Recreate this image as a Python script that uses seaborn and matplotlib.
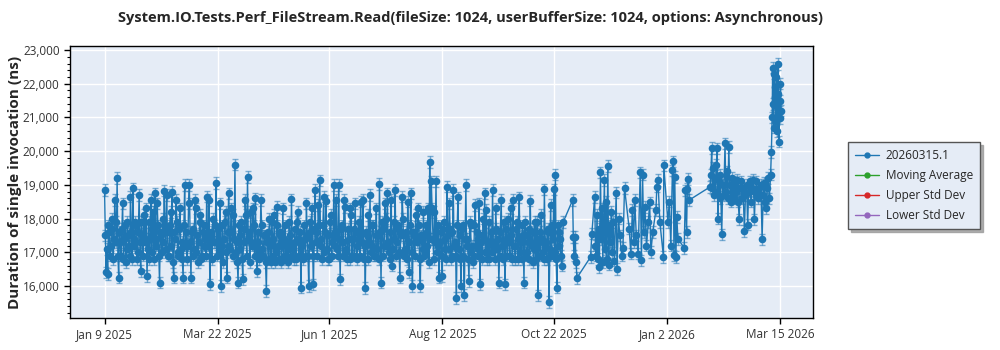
import numpy as np
import pandas as pd
import matplotlib
matplotlib.use("Agg")
import matplotlib.pyplot as plt
from matplotlib.ticker import FuncFormatter, AutoMinorLocator
from matplotlib.lines import Line2D
import seaborn as sns

# ---------------- data ----------------
title = "System.IO.Tests.Perf_FileStream.Read(fileSize: 1024, userBufferSize: 1024, options: Asynchronous)"
y_label = "Duration of single invocation (ns)"
series_names = ["20260315.1", "Moving Average", "Upper Std Dev", "Lower Std Dev"]
start_date = "2025-01-09"

# first run of each day, Jan 9 2025 .. Oct 26 2025 (ns)
daily_values_am = [
    18850, 16400, 16350, 17600, 17200, 18000, 17400, 17900, 19200, 16250,
    17300, 17700, 16800, 17800, 17100, 17500, 16900, 17600, 18900, 17200,
    17800, 17000, 18700, 16450, 17500, 18100, 17300, 16300, 17900, 17400,
    17000, 18200, 18750, 17200, 17800, 16100, 17500, 18000, 18830, 17100,
    17600, 16900, 18200, 18800, 16250, 17400, 17900, 17000, 18300, 17300,
    16250, 19000, 17600, 17200, 19000, 16250, 17700, 17100, 18300, 17500,
    17300, 18100, 16900, 17800, 17400, 18650, 17200, 16050, 17600, 18000,
    17300, 19050, 17700, 17000, 16000, 17800, 17400, 18200, 16250, 18750,
    17100, 17600, 18100, 19600, 17300, 16100, 17500, 17900, 16200, 17300,
    18100, 19230, 17600, 18200, 17200, 17800, 18600, 16450, 17300, 17000,
    17800, 16900, 17500, 15850, 17600, 18000, 16700, 17400, 18100, 17000,
    18350, 16800, 17600, 17200, 16900, 17800, 17300, 16700, 17500, 18570,
    17100, 17700, 16800, 18200, 17400, 15950, 17300, 17800, 16900, 17500,
    16000, 17900, 18300, 16050, 18850, 17600, 18400, 19130, 17200, 17800,
    17000, 18530, 17500, 16800, 18100, 17300, 19000, 17600, 17100, 19000,
    16200, 17800, 17300, 18350, 17000, 17700, 16800, 18100, 17400, 16900,
    17600, 17200, 17900, 18500, 17300, 16800, 15940, 17500, 18100, 18700,
    17200, 17800, 16900, 18300, 17500, 19030, 16100, 17700, 17200, 18000,
    18750, 17000, 17600, 16600, 17900, 18850, 17300, 17800, 16250, 17600,
    18000, 17100, 17600, 18500, 16400, 18750, 16000, 17500, 18100, 17300,
    17800, 16000, 17400, 18200, 17000, 17600, 18300, 19680, 19100, 17400,
    18200, 19100, 17200, 16250, 17600, 16300, 17900, 17400, 18950, 17100,
    17700, 16900, 18850, 17300, 15650, 18630, 17500, 16000, 17800, 15730,
    19000, 17400, 16150, 17800, 17200, 16900, 18400, 17600, 17100, 16050,
    17500, 18000, 18750, 18250, 17000, 16800, 17600, 18850, 17300, 18300,
    17100, 16100, 17600, 17200, 17900, 16050, 17400, 18000, 16900, 17500,
    18550, 17200, 17700, 16800, 18630, 17300, 17800, 16100, 17500, 17000,
    17700, 18530, 17200, 16700, 17900, 17400, 15720, 17600, 18100, 17000,
    18870, 17300, 17700, 15520, 18400, 17800, 18870, 19300, 15950, 17600,
    17400,
]
# second run of each day (ns)
daily_values_pm = [
    17500, 17100, 17800, 16900, 17700, 16800, 18550, 17300, 16900, 17600,
    16900, 18450, 17400, 16700, 17900, 17200, 18650, 16800, 17400, 17900,
    16800, 17600, 17300, 17900, 16900, 17400, 18300, 17100, 16800, 18550,
    17700, 16800, 17400, 18450, 16900, 17600, 17000, 17300, 17700, 18700,
    16900, 17800, 17200, 16700, 17600, 18550, 16900, 17700, 17100, 16800,
    17800, 17200, 16800, 18450, 17300, 17600, 16900, 18550, 17000, 16700,
    17900, 16800, 17600, 17200, 16900, 17500, 18550, 17400, 16800, 17300,
    17800, 16900, 17300, 18450, 17200, 16700, 17900, 17000, 17600, 17200,
    18300, 16900, 17400, 17000, 16700, 17800, 17100, 16800, 17700, 18550,
    16900, 17400, 16700, 17300, 18300, 16900, 17200, 17600, 16800, 18550,
    17100, 17500, 16700, 17300, 16800, 17200, 17900, 16900, 16700, 17800,
    17200, 17500, 16700, 18300, 17400, 16800, 17100, 17900, 16900, 17200,
    16800, 17300, 17900, 16900, 17600, 17200, 16800, 17400, 18450, 16900,
    17600, 17200, 16900, 17700, 17300, 16900, 17800, 17400, 16800, 18650,
    17600, 17100, 16800, 17900, 16900, 17500, 17200, 18550, 16900, 17400,
    17700, 16900, 18550, 17100, 16800, 17400, 18300, 16900, 17700, 18450,
    16800, 17400, 16900, 17300, 18550, 17200, 17600, 16800, 17300, 17000,
    17800, 16900, 17500, 17100, 16800, 17600, 17900, 16900, 18450, 17200,
    17300, 16800, 18550, 17100, 17400, 16900, 17700, 17000, 17500, 18650,
    16900, 17500, 16800, 17300, 17800, 17000, 17600, 16900, 17400, 18300,
    16800, 17500, 17100, 16900, 17800, 17200, 16700, 17400, 18300, 16800,
    17300, 17000, 17800, 17300, 16900, 17700, 17100, 16800, 17500, 18450,
    16800, 17600, 17200, 16900, 17800, 17100, 16800, 17700, 16900, 17400,
    17200, 16800, 17900, 17000, 16700, 17800, 17200, 16900, 18450, 17300,
    16800, 17400, 17000, 16800, 17900, 17300, 17000, 17200, 16800, 17700,
    17400, 16900, 18550, 16800, 17300, 17700, 16900, 17300, 18300, 16800,
    17200, 16800, 17900, 17400, 17000, 16800, 17500, 17900, 16900, 17300,
    16800, 17300, 17600, 17100, 16800, 17900, 17300, 16900, 17400, 16800,
    17200, 16800, 17600, 17100, 16900, 17400, 17000, 16800, 17800, 17200,
    16900,
]

# later, sparser runs: days since Jan 9 2025 and values (ns)
late_days = [
    291, 292, 298.0, 298.4, 298.8, 299.6, 300.2, 300.7, 309.4, 310.2,
    312.0, 312.5, 313.0, 313.5, 314.0, 314.5, 315.0, 315.7, 316.2, 316.7,
    317.2, 317.7, 318.2, 318.7, 319.2, 319.7, 320.4, 320.9, 321.4, 322.0,
    322.6, 323.2, 323.8, 324.6, 325.7, 326.2, 327.2, 328.0, 329.2, 330.0,
    331.0, 334.0, 335.0, 336.0, 336.8, 337.5, 338.5, 339.7, 341.0, 341.8,
    342.5, 343.2, 344.0, 345.0, 346.2, 347.0, 347.8, 349.0, 351.0, 351.6,
    352.3, 353.5, 355.8, 356.0, 358.6, 359.5, 360.5, 361.5, 362.0, 362.5,
    363.0, 363.7, 364.3, 365.0, 369.0, 369.8, 370.5, 371.0, 371.7, 372.2,
    385.5, 386.0, 386.5, 387.0, 387.5, 388.0, 388.5, 389.0, 389.5, 390.0,
    390.4, 391.0, 391.5, 392.0, 392.9, 393.5, 394.2, 395.0, 395.5, 396.2,
    396.8, 397.4, 398.0, 398.6, 399.2, 399.8, 400.4, 401.0, 401.6, 402.2,
    402.8, 403.4, 404.0, 404.6, 405.2, 405.8, 406.5, 407.3, 408.0, 408.7,
    409.4, 410.0, 410.8, 411.5, 412.2, 413.0, 413.7, 414.3, 415.0, 415.7,
    416.4, 417.1, 417.8, 418.6, 419.3, 420.0, 420.6, 421.2, 421.8, 422.5,
    423.2, 424.0, 424.5, 425.0, 425.3, 425.6, 426.0, 426.3, 426.7, 427.0,
    427.3, 427.7, 428.0, 428.3, 428.7, 429.0, 429.3, 429.7, 430.0, 430.3,
    430.6,
]
late_values = [
    16600, 17900, 18550, 17450, 16900, 17450, 16700, 16240, 16860, 17550,
    18640, 17200, 16900, 18100, 16800, 17700, 16560, 19370, 17400, 18300,
    16700, 17900, 19140, 17100, 18500, 16800, 19560, 16630, 17800, 17300,
    18200, 17000, 17900, 16750, 18770, 16510, 18000, 17500, 16900, 17130,
    18910, 17700, 16960, 18250, 17300, 18550, 17500, 16960, 19370, 16760,
    19300, 17600, 18350, 17200, 17900, 18480, 17010, 17600, 18250, 18950,
    19140, 17900, 16860, 19580, 17900, 18500, 17200, 19430, 19700, 16910,
    19230, 16860, 18050, 17400, 17130, 18840, 17600, 18890, 19170, 18550,
    18940, 19300, 20100, 18900, 19500, 18700, 19200, 18800, 19600, 20080,
    18000, 19100, 18600, 19300, 17530, 19000, 18700, 20230, 18800, 19400,
    18600, 20130, 19000, 18500, 19200, 18700, 19100, 18600, 19000, 18800,
    19150, 18500, 17980, 18900, 19100, 18600, 18900, 17630, 18700, 19000,
    17820, 18800, 19100, 18500, 18900, 19150, 17980, 18800, 19100, 18600,
    18900, 18700, 19000, 17380, 18700, 19050, 18500, 18300, 18900, 19200,
    18600, 19300, 19980, 21000, 22480, 21400, 20700, 22300, 21600, 21900,
    20900, 22200, 21300, 20600, 22580, 21700, 20280, 21500, 20970, 22000,
    21200,
]
typical_err_ns = 170

tick_dates = ["2025-01-09", "2025-03-22", "2025-06-01", "2025-08-12",
              "2025-10-22", "2026-01-02", "2026-03-15"]
x_range = ["2024-12-18", "2026-04-05"]
y_range = [15050, 23120]

# ---------------- build frame ----------------
t0 = pd.Timestamp(start_date)
dates_am = [t0 + pd.Timedelta(days=k) for k in range(len(daily_values_am))]
dates_pm = [t0 + pd.Timedelta(days=k, hours=12) for k in range(len(daily_values_pm))]
dates_late = [t0 + pd.to_timedelta(d, unit="D") for d in late_days]
df = pd.DataFrame({"date": dates_am + dates_pm + dates_late,
                   "value": daily_values_am + daily_values_pm + late_values})
df = df.sort_values("date").reset_index(drop=True)
df["series"] = series_names[0]

# ---------------- style ----------------
sns.set_style("whitegrid", {"axes.facecolor": "#E5ECF6", "grid.color": "white",
                            "axes.edgecolor": "black"})
plt.rcParams["font.family"] = ["Open Sans", "DejaVu Sans"]

blue = "#1f77b4"
colors = [blue, "#2ca02c", "#d62728", "#9467bd"]

fig = plt.figure(figsize=(10, 3.5), dpi=100)
ax = fig.add_axes([0.070, 1 - 318 / 350, 0.743, (318 - 46) / 350])

ax.errorbar(df["date"], df["value"], yerr=typical_err_ns, fmt="none",
            ecolor=blue, elinewidth=1.0, capsize=2.5, capthick=1.0, alpha=0.55, zorder=2)
sns.lineplot(data=df, x="date", y="value", ax=ax, color=blue, linewidth=1.0,
             marker="o", markersize=5.5, markeredgewidth=0, estimator=None,
             sort=False, legend=False, zorder=3)

ax.set_xlim(pd.Timestamp(x_range[0]), pd.Timestamp(x_range[1]))
ax.set_ylim(*y_range)
ticks = [pd.Timestamp(d) for d in tick_dates]
ax.set_xticks(ticks)
ax.set_xticklabels([f"{d:%b} {d.day} {d:%Y}" for d in ticks])
ax.set_yticks(np.arange(16000, 23001, 1000))
ax.yaxis.set_major_formatter(FuncFormatter(lambda v, p: f"{int(v):,}"))
ax.yaxis.set_minor_locator(AutoMinorLocator(5))
ax.tick_params(axis="both", which="major", direction="out", length=4, width=1,
               color="black", labelsize=8.5, labelcolor="#333333", bottom=True, left=True)
ax.tick_params(axis="y", which="minor", direction="out", length=2, width=0.8,
               color="black", left=True)
ax.grid(True, which="major", color="white", linewidth=1.0)
ax.grid(False, which="minor")
for s in ax.spines.values():
    s.set_color("black")
    s.set_linewidth(1.0)
ax.set_xlabel("")
ax.set_ylabel(y_label, fontsize=11, fontweight="bold")
ax.yaxis.set_label_coords(-0.064, 0.5)

fig.text(0.47, 1 - 18 / 350, title, ha="center", va="center",
         fontsize=10.5, fontweight="bold")

handles = [Line2D([0], [0], color=c, marker="o", markersize=3.5, linewidth=1.0)
           for c in colors]
leg = fig.legend(handles, series_names, loc="upper left",
                 bbox_to_anchor=(0.842, 1 - 136 / 350), frameon=True,
                 fancybox=False, shadow={"ox": 2, "oy": -2, "color": "#9a9a9a", "alpha": 0.8},
                 edgecolor="#555555", fontsize=8.5, handlelength=2.0,
                 borderpad=0.6, labelspacing=0.6, handletextpad=0.6)
leg.get_frame().set_linewidth(1.0)

fig.savefig("out.png", dpi=100)
